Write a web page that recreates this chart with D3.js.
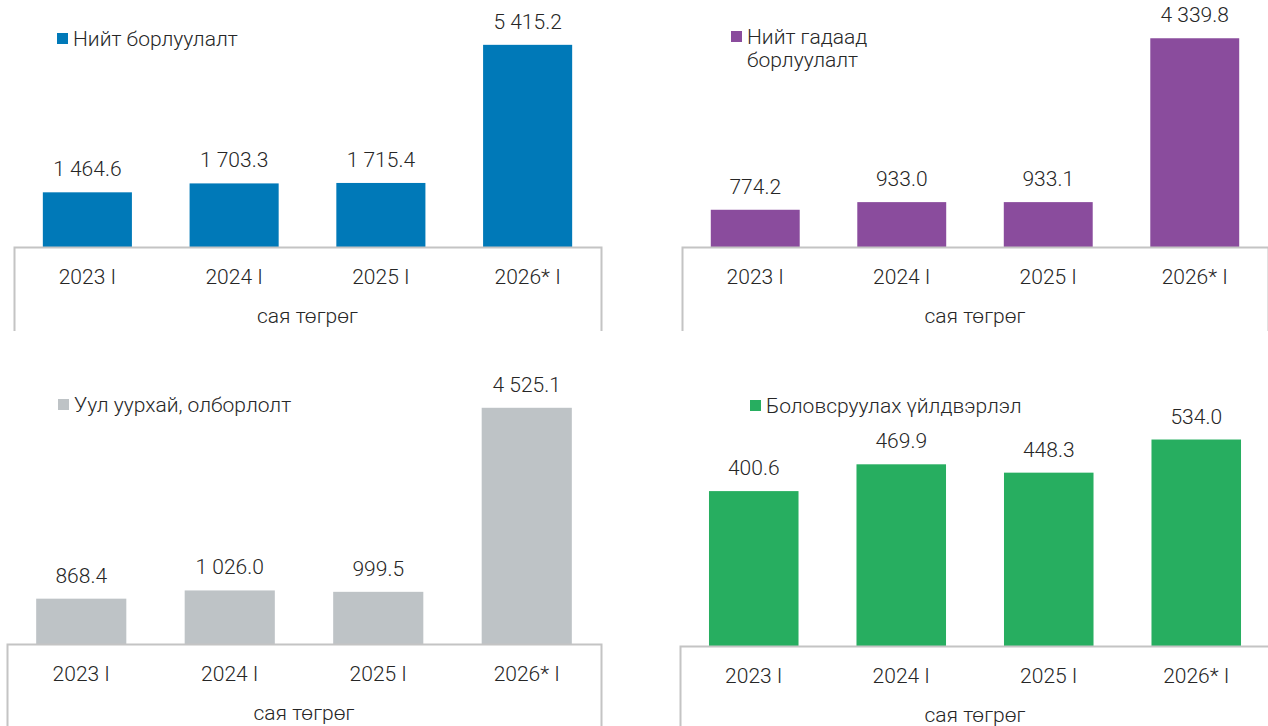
<!DOCTYPE html>
<html>
<head>
<meta charset="utf-8">
<script src="https://cdn.jsdelivr.net/npm/d3@7"></script>
<style>
  body { margin: 0; background: #fff; }
  svg { display: block; font-family: Roboto, "Noto Sans", sans-serif; font-weight: 300; }
  .axis .domain { stroke: #c4c4c4; stroke-width: 2; }
  .axis text { font-family: Roboto, sans-serif; font-weight: 300; font-size: 21px; fill: #262626; }
</style>
</head>
<body>
<div id="chart"></div>
<script>
// data
var categories = ["2023 I", "2024 I", "2025 I", "2026* I"];
var unitLabel = "сая төгрөг";
var totalSales = [1464.6, 1703.3, 1715.4, 5415.2];
var exportSales = [774.2, 933.0, 933.1, 4339.8];
var mining = [868.4, 1026.0, 999.5, 4525.1];
var manufacturing = [400.6, 469.9, 448.3, 534.0];
var seriesNames = [["Нийт борлуулалт"], ["Нийт гадаад", "борлуулалт"], ["Уул уурхай, олборлолт"], ["Боловсруулах үйлдвэрлэл"]];
var axisMax = [6000, 5000, 5000, 600];

// layout / style for each panel
var colors = ["#0079b8", "#8a4c9d", "#bec3c6", "#27ae60"];
var panels = [
  {values: totalSales,    left: 14,  right: 601,  base: 247, top: 23,  lx: 57,  ly: 33},
  {values: exportSales,   left: 682, right: 1268, base: 247, top: 6.5, lx: 731, ly: 31},
  {values: mining,        left: 7,   right: 601,  base: 644, top: 383, lx: 58,  ly: 399},
  {values: manufacturing, left: 680, right: 1270, base: 646, top: 414, lx: 750, ly: 400}
];

var fmt = d3.formatLocale({decimal: ".", thousands: " ", grouping: [3], currency: ["", ""]}).format(",.1f");

var svg = d3.select("#chart").append("svg")
  .attr("width", 1268)
  .attr("height", 726);

panels.forEach(function(p, i) {
  var g = svg.append("g");

  var x = d3.scaleBand()
    .domain(categories)
    .range([p.left, p.right])
    .paddingInner(0.393)
    .paddingOuter(0.1965);

  var y = d3.scaleLinear()
    .domain([0, axisMax[i]])
    .range([p.base, p.top]);

  // bars
  g.selectAll(".bar")
    .data(p.values)
    .enter().append("rect")
      .attr("class", "bar")
      .attr("x", function(d, j) { return x(categories[j]); })
      .attr("y", function(d) { return y(d); })
      .attr("width", x.bandwidth())
      .attr("height", function(d) { return y(0) - y(d); })
      .attr("fill", colors[i]);

  // value labels
  g.selectAll(".val")
    .data(p.values)
    .enter().append("text")
      .attr("class", "val")
      .attr("x", function(d, j) { return x(categories[j]) + x.bandwidth() / 2; })
      .attr("y", function(d) { return y(d) - 16; })
      .attr("text-anchor", "middle")
      .attr("font-size", 21)
      .attr("fill", "#262626")
      .text(function(d) { return fmt(d); });

  // category axis, outer ticks make the box sides
  var ax = g.append("g")
    .attr("class", "axis")
    .attr("transform", "translate(0," + p.base + ")")
    .call(d3.axisBottom(x).tickSizeInner(0).tickSizeOuter(84).tickPadding(22));

  ax.append("text")
    .attr("x", (p.left + p.right) / 2)
    .attr("y", 76)
    .attr("text-anchor", "middle")
    .text(unitLabel);

  // legend
  g.append("rect")
    .attr("x", p.lx)
    .attr("y", p.ly)
    .attr("width", 11)
    .attr("height", 11)
    .attr("fill", colors[i]);

  g.selectAll(".leg")
    .data(seriesNames[i])
    .enter().append("text")
      .attr("class", "leg")
      .attr("x", p.lx + 16)
      .attr("y", function(d, k) { return p.ly + 13 + k * 23; })
      .attr("font-size", 21)
      .attr("fill", "#262626")
      .text(function(d) { return d; });
});
</script>
</body>
</html>
